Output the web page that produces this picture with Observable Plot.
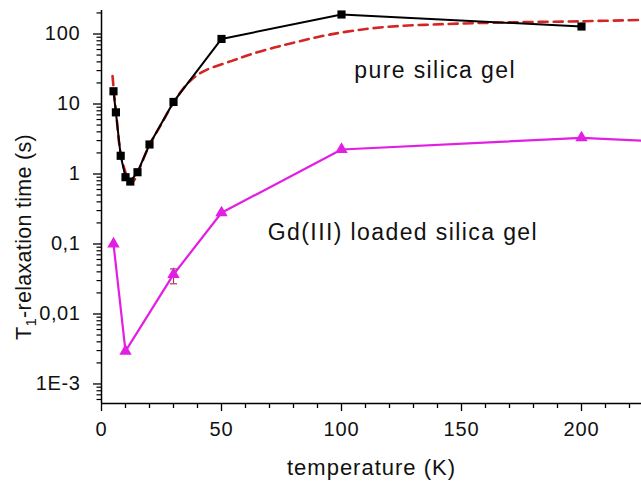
<!DOCTYPE html>
<html>
<head>
<meta charset="utf-8">
<script src="https://cdn.jsdelivr.net/npm/d3@7"></script>
<script src="https://cdn.jsdelivr.net/npm/@observablehq/plot@0.6"></script>
<style>
  html, body { margin: 0; padding: 0; background: #fff; }
  #chart svg { display: block; }
</style>
</head>
<body>
<div id="chart"></div>
<script>
// Pure silica gel (black squares)
const pureTemp = [5, 6, 8, 10, 12, 15, 20, 30, 50, 100, 200];
const pureT1 = [15.2, 7.6, 1.82, 0.9, 0.78, 1.06, 2.64, 10.7, 85, 190, 128];

// Fit (red dashed)
const fitTemp = [4.6, 5.4, 6.2, 7.2, 8.2, 9.3, 10.5, 11.7, 12.8, 14, 15.5, 20, 25, 30, 34, 37, 40, 44, 54, 62, 72, 80, 95, 116, 144, 172, 200, 225];
const fitT1 = [25, 12.5, 7, 3.0, 1.8, 1.25, 0.95, 0.8, 0.76, 0.85, 1.12, 2.6, 5.2, 10.5, 16.5, 21.5, 26, 31, 41, 51, 64, 75, 98, 124, 139, 147, 152, 159];

// Gd(III) loaded silica gel (magenta triangles)
const gdTemp = [5, 10, 30, 50, 100, 200, 250];
const gdT1 = [0.1, 0.00294, 0.0367, 0.279, 2.24, 3.29, 2.74];

// Error bar on the 30 K Gd point
const errTemp = [30];
const errLow = [0.027];
const errHigh = [0.044];

// Axis ticks and labels
const xMajor = [0, 50, 100, 150, 200];
const xMinor = [10, 20, 30, 40, 60, 70, 80, 90, 110, 120, 130, 140, 160, 170, 180, 190, 210, 220];
const yMajor = [100, 10, 1, 0.1, 0.01, 0.001];
const yTickLabels = ["100", "10", "1", "0,1", "0,01", "1E-3"];
const yMinor = [];
for (const dec of [0.0001, 0.001, 0.01, 0.1, 1, 10, 100]) {
  for (let k = 2; k <= 9; k++) {
    const v = +(dec * k).toPrecision(3);
    if (v > 5.3e-4 && v < 216) yMinor.push(v);
  }
}

const annotText = ["pure silica gel", "Gd(III) loaded silica gel"];
const annotX = [139, 125.6];
const annotY = [30, 0.146];

const xLabel = "temperature (K)";

const pure = pureTemp.map((t, i) => ({t, v: pureT1[i]}));
const fit = fitTemp.map((t, i) => ({t, v: fitT1[i]}));
const gd = gdTemp.map((t, i) => ({t, v: gdT1[i]}));
const err = errTemp.map((t, i) => ({t, lo: errLow[i], hi: errHigh[i]}));
const annots = annotText.map((s, i) => ({s, x: annotX[i], y: annotY[i]}));
const yLab = new Map(yMajor.map((v, i) => [v, yTickLabels[i]]));

const capSymbol = {
  draw(ctx, size) {
    const r = Math.sqrt(size / Math.PI);
    ctx.moveTo(-r, 0);
    ctx.lineTo(r, 0);
  }
};

const FONT = "Liberation Sans, Arial, sans-serif";
const black = "#000000";
const red = "#d42525";
const magenta = "#e31ee3";
const errColor = "#a83a55";

const chart = Plot.plot({
  width: 641,
  height: 482,
  marginLeft: 101,
  marginRight: 0,
  marginTop: 10,
  marginBottom: 79,
  style: {fontFamily: FONT, fontSize: "20px", color: "#111", background: "#fff"},
  x: {domain: [0, 225], axis: null},
  y: {type: "log", domain: [5.26e-4, 216.7], axis: null},
  marks: [
    Plot.axisX(xMinor, {tickSize: 5, tickFormat: () => "", strokeWidth: 1.3, stroke: black}),
    Plot.axisX(xMajor, {tickSize: 8, tickPadding: 10, fontSize: 20, strokeWidth: 1.3, stroke: black}),
    Plot.axisY(yMinor, {tickSize: 4.5, tickFormat: () => "", strokeWidth: 1.2, stroke: black}),
    Plot.axisY(yMajor, {tickSize: 8, tickPadding: 13, fontSize: 20, tickFormat: d => yLab.get(d), strokeWidth: 1.3, stroke: black}),
    Plot.ruleX([0], {stroke: black, strokeWidth: 1.5}),
    Plot.ruleY([5.26e-4], {stroke: black, strokeWidth: 1.5}),
    Plot.line(fit, {x: "t", y: "v", curve: "catmull-rom", stroke: red, strokeWidth: 2.6, strokeDasharray: "9,6", clip: true}),
    Plot.line(pure, {x: "t", y: "v", stroke: black, strokeWidth: 2, clip: true}),
    Plot.dot(pure, {x: "t", y: "v", symbol: "square", r: 4.6, fill: black, stroke: "none", clip: true}),
    Plot.line(gd, {x: "t", y: "v", stroke: magenta, strokeWidth: 2.2, clip: true}),
    Plot.ruleX(err, {x: "t", y1: "lo", y2: "hi", stroke: errColor, strokeWidth: 1.2}),
    Plot.dot(err, {x: "t", y: "lo", symbol: capSymbol, r: 3.5, stroke: errColor, strokeWidth: 1.2}),
    Plot.dot(err, {x: "t", y: "hi", symbol: capSymbol, r: 3.5, stroke: errColor, strokeWidth: 1.2}),
    Plot.dot(gd, {x: "t", y: "v", symbol: "triangle", r: 4.6, fill: magenta, stroke: "none", clip: true}),
    Plot.text(annots, {x: "x", y: "y", text: "s", fontSize: 23, fill: "#111", textAnchor: "middle"}),
    Plot.text([xLabel], {frameAnchor: "bottom", dy: 64, fontSize: 22, fill: "#111", lineAnchor: "middle"})
  ]
});

const svg = d3.select(chart);
const xTickSet = new Set(xMajor.map(String));
const yTickSet = new Set(yTickLabels);
svg.selectAll("text").each(function () {
  const s = this.textContent;
  const el = d3.select(this);
  if (annotText.includes(s)) el.style("letter-spacing", "1.4px");
  else if (s === xLabel) el.style("letter-spacing", "1px");
  else if (yTickSet.has(s) && !xTickSet.has(s)) el.style("letter-spacing", "0.6px");
  else if (xTickSet.has(s)) el.style("letter-spacing", "0.8px");
});

// y-axis label with subscript
const yl = svg.append("text")
  .attr("transform", "translate(31,237) rotate(-90)")
  .attr("text-anchor", "middle")
  .attr("font-family", FONT)
  .attr("font-size", 21.5)
  .style("letter-spacing", "0.3px")
  .attr("fill", "#111");
yl.append("tspan").text("T");
yl.append("tspan").attr("font-size", 15).attr("dy", 5).text("1");
yl.append("tspan").attr("dy", -5).text("-relaxation time (s)");

document.getElementById("chart").appendChild(chart);
</script>
</body>
</html>
